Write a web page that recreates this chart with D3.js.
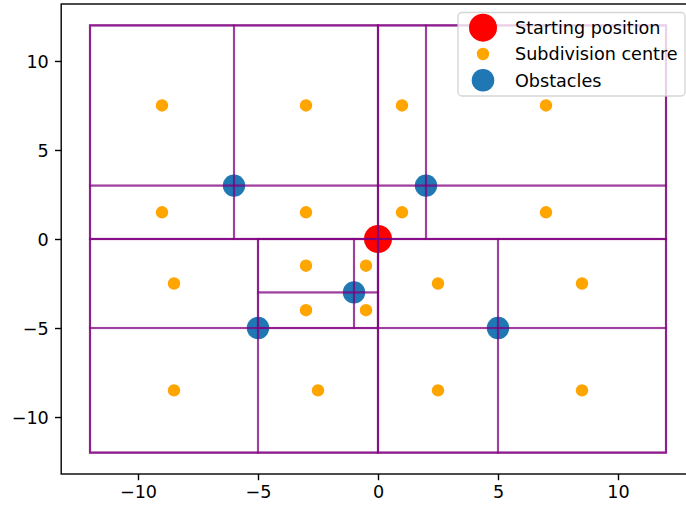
<!DOCTYPE html>
<html>
<head>
<meta charset="utf-8">
<script src="https://cdn.jsdelivr.net/npm/d3@7"></script>
<style>
  html, body { margin: 0; padding: 0; background: #fff; }
  svg { display: block; font-family: "DejaVu Sans", sans-serif; }
</style>
</head>
<body>
<svg id="chart" width="686" height="508"></svg>
<script>
// ---- data ----
const startX = [0];
const startY = [0];

const centreX = [-9, -3, 1, 7, -9, -3, 1, 7, -8.5, -3, -0.5, 2.5, 8.5, -3, -0.5, -8.5, -2.5, 2.5, 8.5];
const centreY = [7.5, 7.5, 7.5, 7.5, 1.5, 1.5, 1.5, 1.5, -2.5, -1.5, -1.5, -2.5, -2.5, -4, -4, -8.5, -8.5, -8.5, -8.5];

const obstacleX = [-6, 2, -1, -5, 5];
const obstacleY = [3, 3, -3, -5, -5];

// subdivision rectangles [x0, y0, x1, y1] (every node of the tree)
const rects = [
  [-12, -12, 12, 12],
  [-12, 0, 0, 12], [0, 0, 12, 12], [-12, -12, 0, 0], [0, -12, 12, 0],
  [-12, 3, -6, 12], [-6, 3, 0, 12], [-12, 0, -6, 3], [-6, 0, 0, 3],
  [0, 3, 2, 12], [2, 3, 12, 12], [0, 0, 2, 3], [2, 0, 12, 3],
  [-12, -5, -5, 0], [-5, -5, 0, 0], [-12, -12, -5, -5], [-5, -12, 0, -5],
  [-5, -3, -1, 0], [-1, -3, 0, 0], [-5, -5, -1, -3], [-1, -5, 0, -3],
  [0, -5, 5, 0], [5, -5, 12, 0], [0, -12, 5, -5], [5, -12, 12, -5]
];

const xTicks = [-10, -5, 0, 5, 10];
const yTicks = [-10, -5, 0, 5, 10];
const legendLabels = ["Starting position", "Subdivision centre", "Obstacles"];

// ---- layout ----
const L = 61.2, R = 694.8, T = 4, B = 474;
const FS = 17.6;
const svg = d3.select("#chart");

const x = d3.scaleLinear().domain([-13.2, 13.2]).range([L, R]);
const y = d3.scaleLinear().domain([-13.2, 13.2]).range([B, T]);

// scatter (below lines, like matplotlib zorder)
const pts = svg.append("g");
pts.selectAll("circle.start").data(startX.map((d, i) => [d, startY[i]])).join("circle")
  .attr("cx", d => x(d[0])).attr("cy", d => y(d[1])).attr("r", 14).attr("fill", "#ff0000");
pts.selectAll("circle.centre").data(centreX.map((d, i) => [d, centreY[i]])).join("circle")
  .attr("class", "centre")
  .attr("cx", d => x(d[0])).attr("cy", d => y(d[1])).attr("r", 6.2).attr("fill", "#ffa500");
pts.selectAll("circle.obs").data(obstacleX.map((d, i) => [d, obstacleY[i]])).join("circle")
  .attr("class", "obs")
  .attr("cx", d => x(d[0])).attr("cy", d => y(d[1])).attr("r", 11.2).attr("fill", "#1f77b4");

// rectangles
svg.append("g").selectAll("rect").data(rects).join("rect")
  .attr("x", d => x(d[0])).attr("y", d => y(d[3]))
  .attr("width", d => x(d[2]) - x(d[0])).attr("height", d => y(d[1]) - y(d[3]))
  .attr("fill", "none").attr("stroke", "#800080")
  .attr("stroke-opacity", 0.5).attr("stroke-width", 2.1);

// axes
const xAxis = d3.axisBottom(x).tickValues(xTicks).tickSize(6.2).tickPadding(5.5).tickFormat(d3.format("d"));
const yAxis = d3.axisLeft(y).tickValues(yTicks).tickSize(6.2).tickPadding(6.2).tickFormat(d3.format("d"));

const gx = svg.append("g").attr("transform", `translate(0,${B})`).call(xAxis);
const gy = svg.append("g").attr("transform", `translate(${L},0)`).call(yAxis);
[gx, gy].forEach(g => {
  g.select(".domain").remove();
  g.selectAll(".tick line").attr("stroke", "#000").attr("stroke-width", 1.4);
  g.selectAll(".tick text").attr("fill", "#000").attr("font-size", FS)
    .attr("font-family", "DejaVu Sans, sans-serif");
});
gx.selectAll(".tick text").attr("dy", "0.72em");
gy.selectAll(".tick text").attr("dy", "0.36em");

// spines
svg.append("rect").attr("x", L).attr("y", T).attr("width", R - L).attr("height", B - T)
  .attr("fill", "none").attr("stroke", "#000").attr("stroke-width", 1.4);

// legend
const lg = svg.append("g");
lg.append("rect").attr("x", 458).attr("y", 12.5).attr("width", 227).attr("height", 83.5)
  .attr("rx", 4).attr("fill", "#fff").attr("fill-opacity", 0.8)
  .attr("stroke", "#cccccc").attr("stroke-opacity", 0.8).attr("stroke-width", 1.4);
const legColors = ["#ff0000", "#ffa500", "#1f77b4"];
const legR = [14, 6.2, 11.3];
const legY = [27.7, 54, 80.3];
legendLabels.forEach((lab, i) => {
  lg.append("circle").attr("cx", 483).attr("cy", legY[i]).attr("r", legR[i]).attr("fill", legColors[i]);
  lg.append("text").attr("x", 515).attr("y", legY[i]).attr("dy", "0.36em")
    .attr("font-size", FS).attr("fill", "#000").text(lab);
});
</script>
</body>
</html>
